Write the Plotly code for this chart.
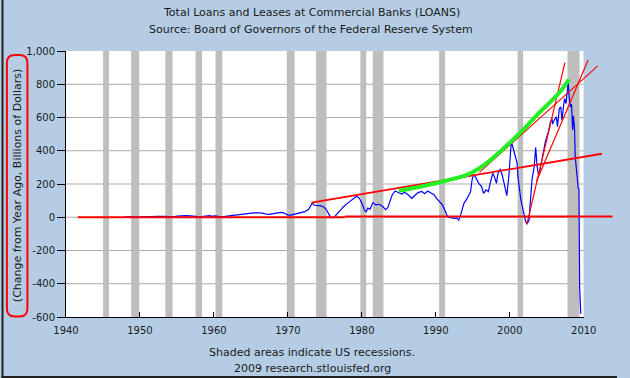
import plotly.graph_objects as go

# ---------------- data ----------------
rec_start = [1945.02, 1948.81, 1953.43, 1957.52, 1960.21, 1969.85, 1973.81, 1979.80, 1981.47, 1990.45, 2001.06, 2007.80]
rec_end = [1945.81, 1949.91, 1954.40, 1958.40, 1961.13, 1970.91, 1975.22, 1980.59, 1982.92, 1991.25, 2001.80, 2009.43]

loan_years = [
    1947.9, 1948.5, 1949.0, 1949.5, 1950.0, 1950.5, 1951.5, 1952.5, 1953.3, 1953.8,
    1954.5, 1955.0, 1955.5, 1956.2, 1956.8, 1957.3, 1957.7, 1958.2, 1958.6, 1959.0,
    1959.4, 1959.7, 1960.0, 1960.4, 1960.9, 1961.5, 1962.0, 1962.5, 1963.0, 1963.6,
    1964.3, 1964.9, 1965.4, 1966.0, 1966.6, 1967.1, 1967.5, 1968.0, 1968.6, 1969.1,
    1969.5, 1970.0, 1970.4, 1970.8, 1971.3, 1971.8, 1972.3, 1972.8, 1973.0, 1973.3,
    1973.6, 1974.0, 1974.5, 1974.9, 1975.2, 1975.5, 1975.8, 1976.2, 1976.6, 1977.0,
    1977.5, 1978.0, 1978.5, 1978.9, 1979.3, 1979.6, 1979.8, 1980.1, 1980.4, 1980.6,
    1980.8, 1981.1, 1981.5, 1981.9, 1982.3, 1982.8, 1983.2, 1983.5, 1983.7, 1984.1,
    1984.5, 1984.9, 1985.4, 1985.8, 1986.3, 1986.75, 1987.2, 1987.6, 1988.1, 1988.5,
    1988.9, 1989.4, 1989.8, 1990.1, 1990.5, 1990.9, 1991.3, 1991.6, 1992.0, 1992.5,
    1992.8, 1993.1, 1993.4, 1993.8, 1994.2, 1994.7, 1994.9, 1995.1, 1995.4, 1995.8,
    1996.2, 1996.45, 1996.8, 1997.1, 1997.4, 1997.7, 1998.0, 1998.2, 1998.4, 1998.7,
    1999.0, 1999.3, 1999.6, 1999.9, 2000.2, 2000.4, 2000.7, 2001.0, 2001.1, 2001.3,
    2001.5, 2001.7, 2001.9, 2002.15, 2002.35, 2002.6, 2002.7, 2002.8, 2003.0, 2003.3,
    2003.5, 2003.7, 2003.9, 2004.1, 2004.3, 2004.6, 2004.8, 2005.0, 2005.2, 2005.5,
    2005.7, 2005.8, 2006.0, 2006.3, 2006.45, 2006.7, 2006.9, 2007.05, 2007.4, 2007.6,
    2007.9, 2008.0, 2008.2, 2008.35, 2008.5, 2008.6, 2008.75, 2008.85, 2009.0, 2009.1,
    2009.25, 2009.35, 2009.4, 2009.45, 2009.6,
]
loan_change = [
    3, 4, 3, 1, 2, 5, 5, 5, 5, 2,
    2, 7, 10, 10, 8, 5, 7, 3, 6, 9,
    10, 5, 8, 7, 3, 5, 8, 9, 11, 16,
    18, 22, 26, 27, 25, 18, 17, 22, 24, 29,
    25, 13, 13, 17, 20, 26, 34, 48, 60, 85,
    72, 70, 68, 60, 45, 22, -2, -3, 18, 38,
    62, 82, 98, 112, 126, 118, 104, 74, 38, 34,
    55, 48, 88, 74, 78, 66, 46, 58, 84, 134,
    158, 152, 140, 150, 134, 114, 134, 148, 155, 142,
    158, 144, 134, 114, 94, 74, 34, 2, -3, -7,
    -4, -17, 20, 84, 110, 154, 224, 258, 240, 204,
    184, 144, 165, 154, 214, 264, 234, 204, 264, 290,
    250, 184, 130, 260, 454, 424, 364, 324, 244, 164,
    104, 64, 14, -27, -37, -20, 44, 124, 224, 304,
    420, 304, 250, 290, 345, 404, 454, 484, 510, 574,
    594, 560, 584, 604, 544, 654, 664, 584, 714, 684,
    815, 740, 665, 680, 525, 610, 540, 364, 284, 204,
    174, 170, -17, -428, -580,
]

# hand-drawn overlay lines (red) and curve (green)
zero_a_x = [1941.6, 1977.7]
zero_a_y = [0, 0]
zero_b_x = [1977.7, 2013.9]
zero_b_y = [5, 5]
trend_long_x = [1973.2, 2012.45]
trend_long_y = [88, 382]
tangent_x = [1995.9, 2011.9]
tangent_y = [270, 911]
steep1_x = [2002.3, 2007.45]
steep1_y = [-45, 930]
steep2_x = [2003.6, 2010.6]
steep2_y = [215, 946]

green_x = [1985.0, 1986.5, 1988.0, 1989.5, 1991.0, 1992.5, 1994.0, 1995.0, 1996.0, 1997.0,
           1998.0, 1999.0, 2000.0, 2001.0, 2002.0, 2003.0, 2004.0, 2005.0, 2006.0, 2007.0, 2008.0]
green_y = [160, 172, 185, 200, 215, 232, 252, 272, 298, 330,
           368, 408, 448, 490, 535, 583, 630, 672, 716, 765, 830]

x_ticks = [1940, 1950, 1960, 1970, 1980, 1990, 2000, 2010]
y_ticks = [-600, -400, -200, 0, 200, 400, 600, 800, 1000]
y_tick_labels = ["-600", "-400", "-200", "0", "200", "400", "600", "800", "1,000"]
grid_values = [-400, -200, 0, 200, 400, 600, 800]

title1 = "Total Loans and Leases at Commercial Banks (LOANS)"
title2 = "Source: Board of Governors of the Federal Reserve System"
ylabel = "(Change from Year Ago, Billions of Dollars)"
foot1 = "Shaded areas indicate US recessions."
foot2 = "2009 research.stlouisfed.org"

# ---------------- layout geometry ----------------
W, H = 630, 378
ML, MR, MT, MB = 66, 2, 51, 61
PW = W - ML - MR
PH = H - MT - MB
MAIN_W = 530  # pixels from 1940 to 2010
px_per_year = MAIN_W / 70.0
x2_end = 1940 + PW / px_per_year

BG = "#B4CDE4"
TXT = "#1a1a1a"
FONT = "DejaVu Sans"


def pxx(px):
    return (px - ML) / PW


def pxy(py):
    return (H - MB - py) / PH


fig = go.Figure()

fig.add_trace(go.Scatter(x=loan_years, y=loan_change, mode="lines",
                         line=dict(color="#0000FF", width=1.2),
                         xaxis="x", yaxis="y", showlegend=False, hoverinfo="skip"))

red_sets = [
    (zero_a_x, zero_a_y, 2),
    (zero_b_x, zero_b_y, 2),
    (trend_long_x, trend_long_y, 1.8),
    (tangent_x, tangent_y, 1.1),
    (steep1_x, steep1_y, 1.2),
    (steep2_x, steep2_y, 1.2),
]
for xs, ys, w in red_sets:
    fig.add_trace(go.Scatter(x=xs, y=ys, mode="lines", line=dict(color="#FF0000", width=w),
                             xaxis="x2", yaxis="y2", showlegend=False, hoverinfo="skip"))

fig.add_trace(go.Scatter(x=green_x, y=green_y, mode="lines",
                         line=dict(color="#22EE22", width=4, shape="spline"),
                         xaxis="x2", yaxis="y2", showlegend=False, hoverinfo="skip"))

shapes = []
# white plotting region
shapes.append(dict(type="rect", xref="x", yref="y", x0=1940, x1=2010, y0=-600, y1=1000,
                   fillcolor="white", line=dict(width=0), layer="below"))
for g in grid_values:
    shapes.append(dict(type="line", xref="x", yref="y", x0=1940, x1=2010, y0=g, y1=g,
                       line=dict(color="#ABABAB", width=1), layer="below"))
for s, e in zip(rec_start, rec_end):
    shapes.append(dict(type="rect", xref="x", yref="y", x0=s, x1=e, y0=-600, y1=1000,
                       fillcolor="#BEBEBE", line=dict(width=0), layer="below"))

# outer border (left and bottom)
shapes.append(dict(type="line", xref="paper", yref="paper", x0=pxx(1), x1=pxx(1),
                   y0=pxy(0), y1=pxy(378), line=dict(color="#222222", width=2)))
shapes.append(dict(type="line", xref="paper", yref="paper", x0=pxx(0), x1=pxx(630),
                   y0=pxy(377), y1=pxy(377), line=dict(color="#222222", width=2)))

# red rounded rectangle around y-axis label
x0p, x1p, y0p, y1p, r = 5.5, 26.5, 55, 316.5, 8
path = (f"M {pxx(x0p + r)},{pxy(y0p)} L {pxx(x1p - r)},{pxy(y0p)} "
        f"Q {pxx(x1p)},{pxy(y0p)} {pxx(x1p)},{pxy(y0p + r)} "
        f"L {pxx(x1p)},{pxy(y1p - r)} Q {pxx(x1p)},{pxy(y1p)} {pxx(x1p - r)},{pxy(y1p)} "
        f"L {pxx(x0p + r)},{pxy(y1p)} Q {pxx(x0p)},{pxy(y1p)} {pxx(x0p)},{pxy(y1p - r)} "
        f"L {pxx(x0p)},{pxy(y0p + r)} Q {pxx(x0p)},{pxy(y0p)} {pxx(x0p + r)},{pxy(y0p)} Z")
shapes.append(dict(type="path", xref="paper", yref="paper", path=path,
                   line=dict(color="#FF0000", width=2)))

annotations = [
    dict(text=title1, x=pxx(317), y=pxy(12.5), xref="paper", yref="paper", showarrow=False,
         xanchor="center", yanchor="middle", font=dict(size=11, color=TXT, family=FONT)),
    dict(text=title2, x=pxx(317), y=pxy(29.5), xref="paper", yref="paper", showarrow=False,
         xanchor="center", yanchor="middle", font=dict(size=11, color=TXT, family=FONT)),
    dict(text=ylabel, x=pxx(16), y=pxy(186), xref="paper", yref="paper", showarrow=False,
         xanchor="center", yanchor="middle", textangle=-90,
         font=dict(size=11, color=TXT, family=FONT)),
    dict(text=foot1, x=pxx(318), y=pxy(352), xref="paper", yref="paper", showarrow=False,
         xanchor="center", yanchor="middle", font=dict(size=11, color=TXT, family=FONT)),
    dict(text=foot2, x=pxx(318), y=pxy(368), xref="paper", yref="paper", showarrow=False,
         xanchor="center", yanchor="middle", font=dict(size=11, color=TXT, family=FONT)),
]

fig.update_layout(
    width=W, height=H,
    margin=dict(l=ML, r=MR, t=MT, b=MB, pad=0),
    paper_bgcolor=BG,
    plot_bgcolor="rgba(0,0,0,0)",
    showlegend=False,
    font=dict(family=FONT, size=10, color=TXT),
    shapes=shapes,
    annotations=annotations,
    xaxis=dict(domain=[0, MAIN_W / PW], range=[1940, 2010], tickvals=x_ticks,
               ticks="inside", ticklen=5, tickcolor="black", tickwidth=1,
               ticklabelstandoff=4,
               showline=True, linecolor="black", linewidth=1, showgrid=False, zeroline=False,
               tickfont=dict(size=10, color=TXT, family=FONT), anchor="y", fixedrange=True),
    yaxis=dict(domain=[0, 1], range=[-600, 1000], tickvals=y_ticks, ticktext=y_tick_labels,
               ticks="outside", ticklen=8, tickcolor="black", tickwidth=1,
               showline=True, linecolor="black", linewidth=1, showgrid=False, zeroline=False,
               tickfont=dict(size=10, color=TXT, family=FONT), anchor="x", fixedrange=True),
    xaxis2=dict(domain=[0, 1], range=[1940, x2_end], visible=False, anchor="y2", fixedrange=True),
    yaxis2=dict(domain=[0, 1], range=[-600, 1000], visible=False, anchor="x2", fixedrange=True),
)

fig.write_html(
    "out.html",
    config={"displayModeBar": False},
    post_script="document.body.style.margin='0';document.body.style.overflow='hidden';",
)
